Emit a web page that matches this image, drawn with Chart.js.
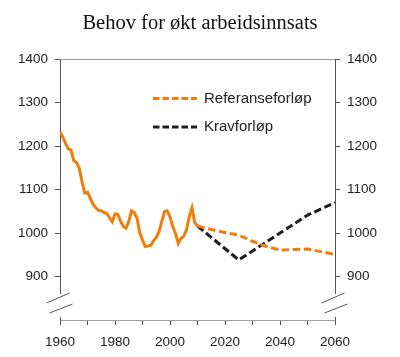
<!DOCTYPE html>
<html><head><meta charset="utf-8">
<script src="https://cdn.jsdelivr.net/npm/chart.js@4/dist/chart.umd.min.js"></script>
<style>html,body{margin:0;padding:0;background:#fff}#wrap{width:400px;height:357px;position:relative}</style>
</head><body><div id="wrap"><canvas id="c" width="400" height="357"></canvas></div>
<script>
const chartTitle = 'Behov for økt arbeidsinnsats';
const seriesLabels = ['Referanseforløp', 'Kravforløp'];
const histYears = [1960,1961,1962,1963,1964,1965,1966,1967,1968,1969,1970,1971,1972,1973,1974,1975,1976,1977,1978,1979,1980,1981,1982,1983,1984,1985,1986,1987,1988,1989,1990,1991,1992,1993,1994,1995,1996,1997,1998,1999,2000,2001,2002,2003,2004,2005,2006,2007,2008,2009,2010];
const histValues = [1233,1221,1206,1193,1191,1166,1162,1149,1118,1092,1094,1080,1066,1058,1052,1051,1047,1045,1035,1026,1044,1043,1028,1015,1011,1026,1051,1047,1034,1001,984,969,970,972,982,990,1003,1026,1049,1051,1037,1015,999,976,988,992,1008,1037,1058,1024,1016];
const refYears = [2010,2015,2020,2025,2030,2035,2040,2045,2050,2060];
const refValues = [1016,1008,1001,995,981,969,961,962,963,951];
const kravYears = [2010,2025,2050,2060];
const kravValues = [1016,938,1041,1070];
const xTickLabels = [1960,1980,2000,2020,2040,2060];
const yTickLabels = [900,1000,1100,1200,1300,1400];

const ORANGE = '#F07D0A';
const DARK = '#1E1E1E';
const toXY = (xs, ys) => xs.map((x, i) => ({x: x, y: ys[i]}));
const tickFont = {family: 'Liberation Sans', size: 13.5};

const framePlugin = {
  id: 'frame',
  afterDraw(chart) {
    const ctx = chart.ctx, a = chart.chartArea;
    ctx.save();
    // top border
    ctx.strokeStyle = '#9a9a9a'; ctx.lineWidth = 1;
    ctx.beginPath(); ctx.moveTo(a.left, a.top + 0.5); ctx.lineTo(a.right, a.top + 0.5); ctx.stroke();
    // axis breaks
    [a.left, a.right].forEach(ax => {
      const x = Math.round(ax) + 0.5;
      ctx.fillStyle = '#fff';
      ctx.fillRect(x - 2, a.bottom - 26, 4, 23);
      ctx.strokeStyle = '#555'; ctx.lineWidth = 1;
      ctx.beginPath();
      ctx.moveTo(x - 14, a.bottom - 17); ctx.lineTo(x + 9, a.bottom - 27);
      ctx.moveTo(x - 11, a.bottom - 7); ctx.lineTo(x + 12, a.bottom - 16);
      ctx.stroke();
    });
    // legend
    const items = [chart.data.datasets[1], chart.data.datasets[2]];
    const ys = [a.top + 39.5, a.top + 68];
    items.forEach((ds, i) => {
      ctx.strokeStyle = ds.borderColor; ctx.lineWidth = 3;
      ctx.setLineDash([6.5, 3]);
      ctx.beginPath(); ctx.moveTo(a.left + 93, ys[i]); ctx.lineTo(a.left + 137, ys[i]); ctx.stroke();
      ctx.setLineDash([]);
      ctx.fillStyle = '#222';
      ctx.font = '15px "Liberation Sans"';
      ctx.textBaseline = 'middle'; ctx.textAlign = 'left';
      ctx.fillText(ds.label, a.left + 144, ys[i]);
    });
    ctx.restore();
  }
};

const yAxis = (pos, w) => ({
  type: 'linear', position: pos, min: 800, max: 1400,
  ticks: {stepSize: 100, padding: 7, font: tickFont, color: '#222',
    callback: v => yTickLabels.includes(v) ? String(v) : ''},
  grid: {drawOnChartArea: false, drawTicks: true, tickLength: 5,
    tickColor: c => (c.tick && c.tick.value === 800) ? 'rgba(0,0,0,0)' : '#555'},
  border: {color: '#555', width: 1},
  afterFit: s => { s.width = w; }
});

new Chart(document.getElementById('c'), {
  type: 'line',
  data: {datasets: [
    {label: 'Historisk', data: toXY(histYears, histValues), borderColor: ORANGE, borderWidth: 3, pointRadius: 0, tension: 0, yAxisID: 'y'},
    {label: seriesLabels[0], data: toXY(refYears, refValues), borderColor: ORANGE, borderWidth: 3, borderDash: [7.5, 3.5], pointRadius: 0, tension: 0, yAxisID: 'y'},
    {label: seriesLabels[1], data: toXY(kravYears, kravValues), borderColor: DARK, borderWidth: 3, borderDash: [7.5, 3.5], pointRadius: 0, tension: 0, yAxisID: 'y'}
  ]},
  options: {
    responsive: false, animation: false,
    layout: {padding: 0},
    plugins: {
      legend: {display: false}, tooltip: {enabled: false},
      title: {display: true, text: chartTitle, color: '#111',
        font: {family: 'Liberation Serif', size: 20.5, weight: 'normal', lineHeight: 1.2},
        padding: {top: 11.7, bottom: 22.7}}
    },
    scales: {
      x: {type: 'linear', min: 1960, max: 2060,
        ticks: {stepSize: 10, autoSkip: false, maxRotation: 0, padding: 9, font: tickFont, color: '#222',
          callback: v => xTickLabels.includes(v) ? String(v) : ''},
        grid: {drawOnChartArea: false, drawTicks: true, tickLength: 5, tickColor: '#555'},
        border: {color: '#a0a0a0', width: 1},
        afterFit: s => { s.height = 37; }},
      y: yAxis('left', 60),
      y2: yAxis('right', 65)
    }
  },
  plugins: [framePlugin]
});
</script></body></html>
